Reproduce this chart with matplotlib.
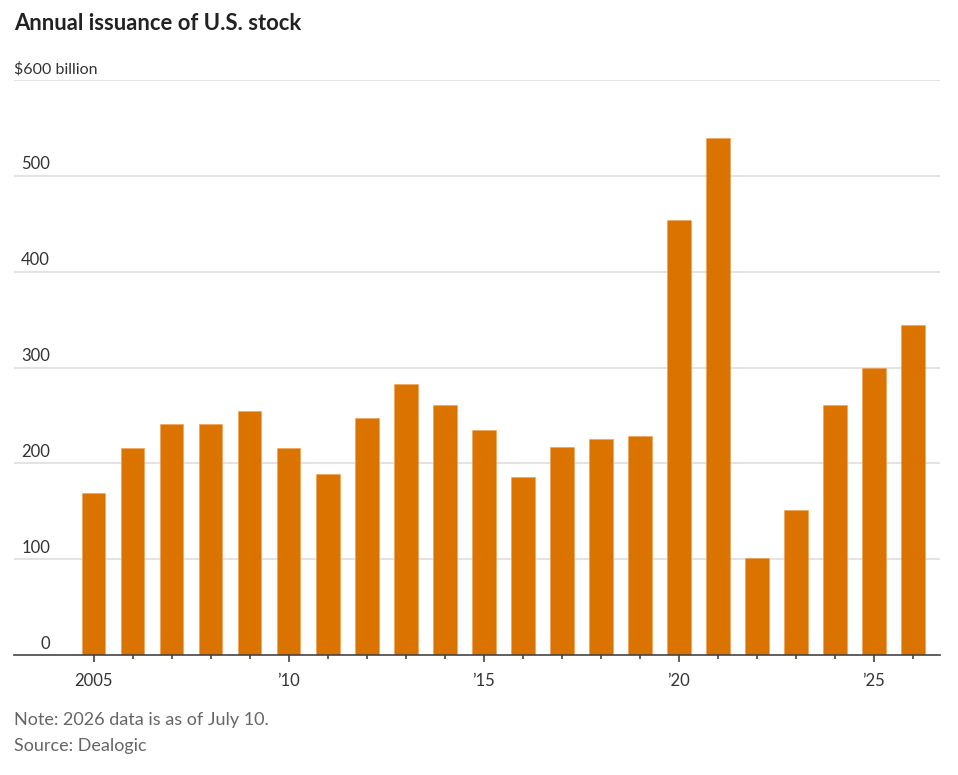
import matplotlib.pyplot as plt
from matplotlib.ticker import FixedLocator

# Data (billions of dollars)
years = list(range(2005, 2027))
issuance = [169, 216, 241, 241, 255, 216, 189, 247, 283, 261, 235, 186,
            217, 225, 229, 454, 539, 101, 151, 261, 299, 344]
major_years = [2005, 2010, 2015, 2020, 2025]
major_labels = ["2005", "\u201910", "\u201915", "\u201920", "\u201925"]
y_ticks = [0, 100, 200, 300, 400, 500, 600]

BAR = "#db7300"
TXT = "#333333"
GRID = "#e3e3e3"
plt.rcParams['font.family'] = ['Lato', 'DejaVu Sans']

W, H = 958, 775
fig = plt.figure(figsize=(W / 100, H / 100), dpi=100)
ax = fig.add_axes([14 / W, (H - 655) / H, (940 - 14) / W, (655 - 80) / H])

ax.bar(years, issuance, width=0.61, color=BAR, edgecolor="#f0a050",
       linewidth=0.4, zorder=3)

ax.set_xlim(2002.96, 2026.7)
ax.set_ylim(0, 600)

# gridlines
for v in y_ticks[1:]:
    ax.axhline(v, color=GRID, lw=1.5, zorder=1)

# y labels sit just above their gridlines
for v in y_ticks:
    if v == 600:
        ax.annotate("$600 billion", xy=(0, v), xycoords=('axes fraction', 'data'),
                    xytext=(0, 2.5), textcoords='offset points', ha='left', va='bottom',
                    fontsize=11.5, color=TXT)
    else:
        ax.annotate(str(v), xy=(36 / 926, v), xycoords=('axes fraction', 'data'),
                    xytext=(0, 2.5), textcoords='offset points', ha='right', va='bottom',
                    fontsize=12, color=TXT)
ax.set_yticks([])

for s in ['top', 'right', 'left']:
    ax.spines[s].set_visible(False)
ax.spines['bottom'].set_color('#444444')
ax.spines['bottom'].set_linewidth(1.2)
ax.spines['bottom'].set_zorder(4)

ax.xaxis.set_major_locator(FixedLocator(major_years))
ax.set_xticklabels(major_labels)
ax.xaxis.set_minor_locator(FixedLocator([y for y in years if y not in major_years]))
ax.tick_params(axis='x', which='major', length=5, width=1.2, color='#444444',
               labelsize=12, labelcolor=TXT, pad=8)
ax.tick_params(axis='x', which='minor', length=3, width=1.2, color='#444444')

fig.text(14 / W, 1 - 24 / H, "Annual issuance of U.S. stock", fontsize=15.8,
         fontweight='bold', color='#222222', va='center', ha='left')
fig.text(14 / W, 1 - 720 / H, "Note: 2026 data is as of July 10.", fontsize=13,
         color='#666666', va='center', ha='left')
fig.text(14 / W, 1 - 746 / H, "Source: Dealogic", fontsize=13,
         color='#666666', va='center', ha='left')

fig.savefig("out.png", dpi=100, facecolor='white')
